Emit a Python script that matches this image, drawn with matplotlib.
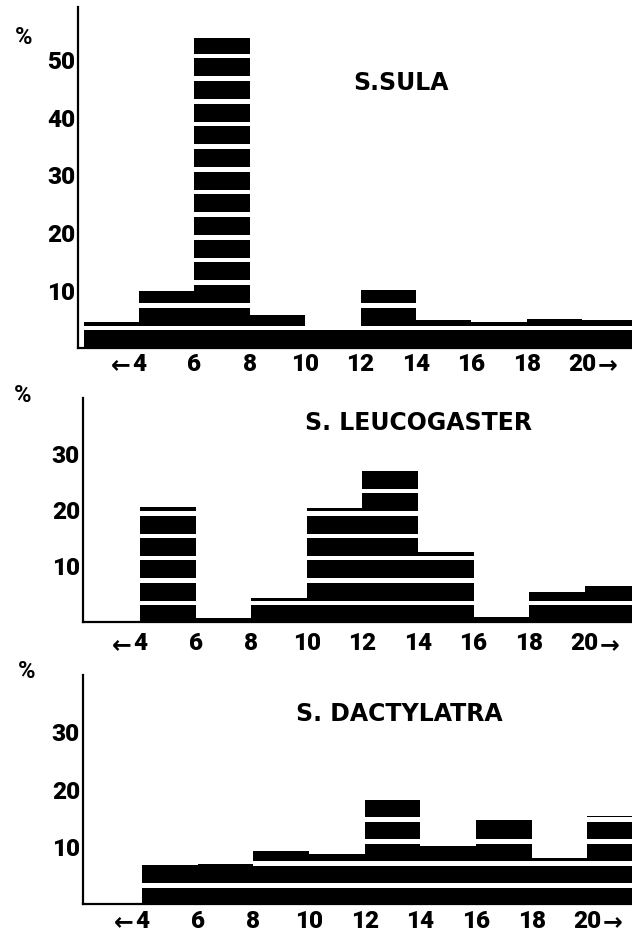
import matplotlib
matplotlib.use('Agg')
import matplotlib.pyplot as plt

# left edges of the 2-unit bins
bins = [2, 4, 6, 8, 10, 12, 14, 16, 18, 20]
tick_pos = [4, 6, 8, 10, 12, 14, 16, 18, 20]
tick_labels = ['4', '6', '8', '10', '12', '14', '16', '18', '20']

sula = [4.5, 10.0, 53.9, 5.8, 3.2, 10.1, 4.8, 4.6, 5.0, 4.8]
leucogaster = [0, 20.6, 0.8, 4.3, 20.4, 26.9, 12.5, 0.9, 5.4, 6.5]
dactylatra = [0, 6.9, 7.0, 9.2, 8.8, 18.2, 10.1, 14.6, 8.1, 15.4]

titles = ['S.SULA', 'S. LEUCOGASTER', 'S. DACTYLATRA']
sula_yticks = [10, 20, 30, 40, 50]
other_yticks = [10, 20, 30]

NUM_FONT = 'Roboto'
TITLE_FONT = 'DejaVu Sans'


def striped_bars(ax, values, unit, offset, gap=0.8):
    ax.bar(bins, values, width=2, align='edge', color='black', linewidth=0)
    # white cuts every "unit" percent, like the stacked blocks in the print
    for b, v in zip(bins, values):
        k = 1
        while k * unit - offset + gap / 2 < v:
            ax.bar(b, gap, bottom=k * unit - offset - gap / 2, width=2,
                   align='edge', color='white', linewidth=0)
            k += 1


def panel(fig, rect, values, title, title_pos, xlim, ylim, yticks, unit, offset, xpad, pct_pos):
    ax = fig.add_axes(rect)
    striped_bars(ax, values, unit, offset)
    ax.set_xlim(xlim)
    ax.set_ylim(ylim)
    for s in ['top', 'right']:
        ax.spines[s].set_visible(False)
    for s in ['left', 'bottom']:
        ax.spines[s].set_linewidth(1.6)
    ax.set_xticks(tick_pos)
    ax.set_xticklabels(tick_labels, fontfamily=NUM_FONT, fontweight=900, fontsize=17.5)
    ax.set_yticks(yticks)
    ax.set_yticklabels([str(t) for t in yticks], fontfamily=NUM_FONT, fontweight=900, fontsize=17.5)
    ax.tick_params(axis='x', length=0, pad=xpad)
    ax.tick_params(axis='y', length=0, pad=2)
    # arrows beside first and last labels
    ax.annotate('\u2190', xy=(4, 0), xycoords=('data', 'axes fraction'),
                xytext=(-6, -xpad - 9), textcoords='offset points',
                ha='right', va='center', fontsize=17, fontweight='bold')
    ax.annotate('\u2192', xy=(20, 0), xycoords=('data', 'axes fraction'),
                xytext=(11, -xpad - 9), textcoords='offset points',
                ha='left', va='center', fontsize=17, fontweight='bold')
    ax.text(title_pos[0], title_pos[1], title, transform=ax.transAxes,
            ha='center', va='center', fontfamily=TITLE_FONT, fontweight='bold', fontsize=17)
    fig.text(pct_pos[0], pct_pos[1], '%', ha='center', va='center',
             fontfamily=NUM_FONT, fontweight='bold', fontsize=17)
    return ax


if __name__ == "__main__":
    fig = plt.figure(figsize=(6.32, 9.34), dpi=100)

    panel(fig, [0.1234, 0.6274, 0.8766, 0.3651], sula, titles[0], (0.583, 0.777),
          (1.8, 21.8), (0, 59.3), sula_yticks, 3.94, 0.44, 3.5, (0.037, 0.960))
    panel(fig, [0.1309, 0.3340, 0.8691, 0.2398], leucogaster, titles[1], (0.611, 0.888),
          (1.94, 21.7), (0, 40), other_yticks, 4.0, 0.6, 7.5, (0.036, 0.577))
    panel(fig, [0.1309, 0.0321, 0.8691, 0.2452], dactylatra, titles[2], (0.576, 0.830),
          (1.87, 21.6), (0, 40), other_yticks, 3.87, 0.67, 4.3, (0.042, 0.281))

    plt.savefig('out.png', dpi=100)
